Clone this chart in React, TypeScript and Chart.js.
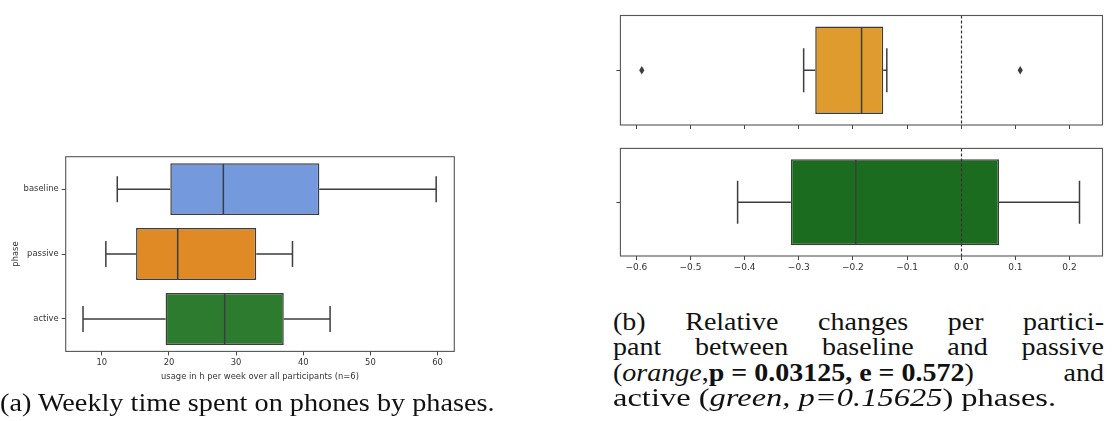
import React, { useEffect, useRef } from 'react';
import { Chart, registerables } from 'chart.js';
Chart.register(...registerables);

// ---------- data: (a) weekly usage per phase ----------
const phaseLabels = ['baseline', 'passive', 'active'];
const usageLow = [12.3, 10.6, 7.2];
const usageQ1 = [20.2, 15.1, 19.5];
const usageMedian = [28.1, 21.3, 28.3];
const usageQ3 = [42.4, 33.0, 37.1];
const usageHigh = [59.8, 38.4, 44.0];
const usageTicks = [10, 20, 30, 40, 50, 60];
const usageAxisMin = 4.62;
const usageAxisMax = 62.5;
const usageColors = ['#7499DC', '#DF8A25', '#2C7B2F'];

// ---------- data: (b) relative changes ----------
const passiveLow = [-0.291];
const passiveQ1 = [-0.2696];
const passiveMedian = [-0.184];
const passiveQ3 = [-0.144];
const passiveHigh = [-0.1374];
const passiveOutliers = [-0.59, 0.109];

const activeLow = [-0.413];
const activeQ1 = [-0.3147];
const activeMedian = [-0.1948];
const activeQ3 = [0.07];
const activeHigh = [0.2185];
const activeOutliers: number[] = [];

const relTicks = [-0.6, -0.5, -0.4, -0.3, -0.2, -0.1, 0.0, 0.1, 0.2];
const relAxisMin = -0.6295;
const relAxisMax = 0.261;
const relRefLine = 0;

// ---------- captions ----------
const captionA = '(a) Weekly time spent on phones by phases.';
const captionBLine1 = ['(b)', 'Relative', 'changes', 'per', 'partici-'];
const captionBLine2 = ['pant', 'between', 'baseline', 'and', 'passive'];

const EDGE = '#3d3d3d';
const TICK = '#444';
const TXT = '#333';
const FONT = 'DejaVu Sans';

const boxPlotPlugin = {
  id: 'boxPlot',
  afterDatasetsDraw(chart: any, _args: any, opts: any) {
    if (!opts || !opts.low) return;
    const { ctx, chartArea } = chart;
    const xs = chart.scales.x;
    const ys = chart.scales.y;
    const meta = chart.getDatasetMeta(0);
    ctx.save();
    ctx.strokeStyle = EDGE;
    ctx.lineWidth = 1.5;
    opts.low.forEach((lo: number, i: number) => {
      const bar: any = meta.data[i];
      const y = ys.getPixelForValue(i);
      const h = bar.height;
      const xLo = xs.getPixelForValue(lo);
      const xQ1 = xs.getPixelForValue(opts.q1[i]);
      const xMed = xs.getPixelForValue(opts.median[i]);
      const xQ3 = xs.getPixelForValue(opts.q3[i]);
      const xHi = xs.getPixelForValue(opts.high[i]);
      ctx.beginPath();
      ctx.moveTo(xLo, y); ctx.lineTo(xQ1, y);
      ctx.moveTo(xQ3, y); ctx.lineTo(xHi, y);
      ctx.moveTo(xLo, y - h / 4); ctx.lineTo(xLo, y + h / 4);
      ctx.moveTo(xHi, y - h / 4); ctx.lineTo(xHi, y + h / 4);
      ctx.moveTo(xMed, y - h / 2 + 0.75); ctx.lineTo(xMed, y + h / 2 - 0.75);
      ctx.stroke();
    });
    (opts.outliers || []).forEach((v: number) => {
      const x = xs.getPixelForValue(v);
      const y = ys.getPixelForValue(0);
      ctx.fillStyle = EDGE;
      ctx.beginPath();
      ctx.moveTo(x, y - 4.2);
      ctx.lineTo(x + 2.6, y);
      ctx.lineTo(x, y + 4.2);
      ctx.lineTo(x - 2.6, y);
      ctx.closePath();
      ctx.fill();
    });
    if (opts.refLine !== undefined) {
      const x = Math.round(xs.getPixelForValue(opts.refLine)) + 0.5;
      ctx.strokeStyle = '#333';
      ctx.lineWidth = 1.2;
      ctx.setLineDash([3, 2]);
      ctx.beginPath();
      ctx.moveTo(x, chartArea.top);
      ctx.lineTo(x, chartArea.bottom);
      ctx.stroke();
      ctx.setLineDash([]);
    }
    ctx.restore();
  },
  afterDraw(chart: any) {
    const { ctx, chartArea } = chart;
    ctx.save();
    ctx.strokeStyle = '#555';
    ctx.lineWidth = 1.1;
    ctx.strokeRect(chartArea.left, chartArea.top, chartArea.right - chartArea.left, chartArea.bottom - chartArea.top);
    ctx.restore();
  },
};

function makeBoxChart(canvas: HTMLCanvasElement, cfg: any) {
  return new Chart(canvas, {
    type: 'bar',
    data: {
      labels: cfg.labels,
      datasets: [
        {
          data: cfg.labels.map((_: any, i: number) => [cfg.q1[i], cfg.q3[i]]),
          backgroundColor: cfg.colors,
          borderColor: EDGE,
          borderWidth: 1.5,
          borderSkipped: false,
          barPercentage: 0.8,
          categoryPercentage: 1,
        },
      ],
    },
    options: {
      indexAxis: 'y',
      responsive: false,
      maintainAspectRatio: false,
      animation: false,
      layout: { padding: cfg.padding },
      plugins: {
        legend: { display: false },
        tooltip: { enabled: false },
        boxPlot: {
          low: cfg.low, q1: cfg.q1, median: cfg.median, q3: cfg.q3, high: cfg.high,
          outliers: cfg.outliers, refLine: cfg.refLine,
        },
      } as any,
      scales: {
        x: {
          type: 'linear',
          min: cfg.min,
          max: cfg.max,
          afterBuildTicks: (s: any) => { s.ticks = cfg.ticks.map((v: number) => ({ value: v })); },
          afterFit: (s: any) => { s.height = cfg.xHeight; },
          grid: { drawOnChartArea: false, drawTicks: true, tickLength: 4, color: TICK, lineWidth: 1 },
          border: { display: false },
          ticks: {
            display: cfg.showXLabels,
            autoSkip: false, maxRotation: 0, padding: 2,
            color: TXT, font: { family: FONT, size: cfg.fontSize },
            callback: cfg.tickFormat,
          },
          title: cfg.xTitle
            ? { display: true, text: cfg.xTitle, color: TXT, font: { family: FONT, size: cfg.fontSize }, padding: { top: 0, bottom: 0 } }
            : { display: false },
        },
        y: {
          type: 'category',
          offset: true,
          afterFit: (s: any) => { s.width = cfg.yWidth; },
          grid: { offset: false, drawOnChartArea: false, drawTicks: true, tickLength: 4, color: TICK, lineWidth: 1 },
          border: { display: false },
          ticks: { padding: 3, color: TXT, font: { family: FONT, size: cfg.fontSize } },
          title: cfg.yTitle
            ? { display: true, text: cfg.yTitle, color: TXT, font: { family: FONT, size: cfg.fontSize }, padding: { top: 11, bottom: 0 } }
            : { display: false },
        },
      },
    } as any,
    plugins: [boxPlotPlugin as any],
  });
}

const relFormat = (v: any) => Number(v).toFixed(1).replace('-', '\u2212');

export default function App() {
  const leftRef = useRef<HTMLCanvasElement>(null);
  const topRef = useRef<HTMLCanvasElement>(null);
  const botRef = useRef<HTMLCanvasElement>(null);

  useEffect(() => {
    document.body.style.margin = '0';
    const charts: Chart[] = [];
    charts.push(
      makeBoxChart(leftRef.current!, {
        labels: phaseLabels,
        low: usageLow, q1: usageQ1, median: usageMedian, q3: usageQ3, high: usageHigh,
        colors: usageColors, outliers: [],
        min: usageAxisMin, max: usageAxisMax, ticks: usageTicks,
        tickFormat: (v: any) => String(v),
        padding: { left: 0, top: 16.7, right: 15.7, bottom: 8.6 },
        xHeight: 30, yWidth: 65.7, fontSize: 8.4, showXLabels: true,
        xTitle: 'usage in h per week over all participants (n=6)', yTitle: 'phase',
      })
    );
    charts.push(
      makeBoxChart(topRef.current!, {
        labels: [''],
        low: passiveLow, q1: passiveQ1, median: passiveMedian, q3: passiveQ3, high: passiveHigh,
        colors: ['#DF9B2E'], outliers: passiveOutliers, refLine: relRefLine,
        min: relAxisMin, max: relAxisMax, ticks: relTicks,
        tickFormat: () => '',
        padding: { left: 0, top: 15.5, right: 17.5, bottom: 9 },
        xHeight: 6, yWidth: 30.4, fontSize: 9, showXLabels: false,
      })
    );
    charts.push(
      makeBoxChart(botRef.current!, {
        labels: [''],
        low: activeLow, q1: activeQ1, median: activeMedian, q3: activeQ3, high: activeHigh,
        colors: ['#1C6C20'], outliers: activeOutliers, refLine: relRefLine,
        min: relAxisMin, max: relAxisMax, ticks: relTicks,
        tickFormat: relFormat,
        padding: { left: 0, top: 6, right: 17.5, bottom: 10 },
        xHeight: 24, yWidth: 30.4, fontSize: 9, showXLabels: true,
      })
    );
    return () => charts.forEach((c) => c.destroy());
  }, []);

  const serif = '"Liberation Serif", "Times New Roman", serif';
  const capStyle: React.CSSProperties = {
    position: 'absolute',
    fontFamily: serif,
    fontSize: 25,
    lineHeight: '26px',
    color: '#111',
    whiteSpace: 'nowrap',
    transformOrigin: 'left center',
  };
  const S = 1.12;
  const justLine = (top: number): React.CSSProperties => ({
    ...capStyle,
    left: 613,
    top,
    width: 491 / S,
    display: 'flex',
    justifyContent: 'space-between',
    transform: `scaleX(${S})`,
  });

  return (
    <div style={{ position: 'relative', width: 1120, height: 421, background: '#fff', overflow: 'hidden' }}>
      <canvas ref={leftRef} width={470} height={250} style={{ position: 'absolute', left: 0, top: 140, width: 470, height: 250 }} />
      <canvas ref={topRef} width={530} height={140} style={{ position: 'absolute', left: 590, top: 0, width: 530, height: 140 }} />
      <canvas ref={botRef} width={530} height={150} style={{ position: 'absolute', left: 590, top: 140, width: 530, height: 150 }} />

      <div style={{ ...capStyle, left: 0, top: 390, transform: 'scaleX(1.13)' }}>{captionA}</div>

      <div style={justLine(309)}>
        {captionBLine1.map((w, i) => <span key={i}>{w}</span>)}
      </div>
      <div style={justLine(334)}>
        {captionBLine2.map((w, i) => <span key={i}>{w}</span>)}
      </div>
      <div style={justLine(359.5)}>
        <span>(<i>orange</i>,<b>p = 0.03125, e = 0.572</b>)</span>
        <span>and</span>
      </div>
      <div style={{ ...capStyle, left: 613, top: 385, transform: 'scaleX(1.3)' }}>
        active (<i>green, p=0.15625</i>) phases.
      </div>
    </div>
  );
}
